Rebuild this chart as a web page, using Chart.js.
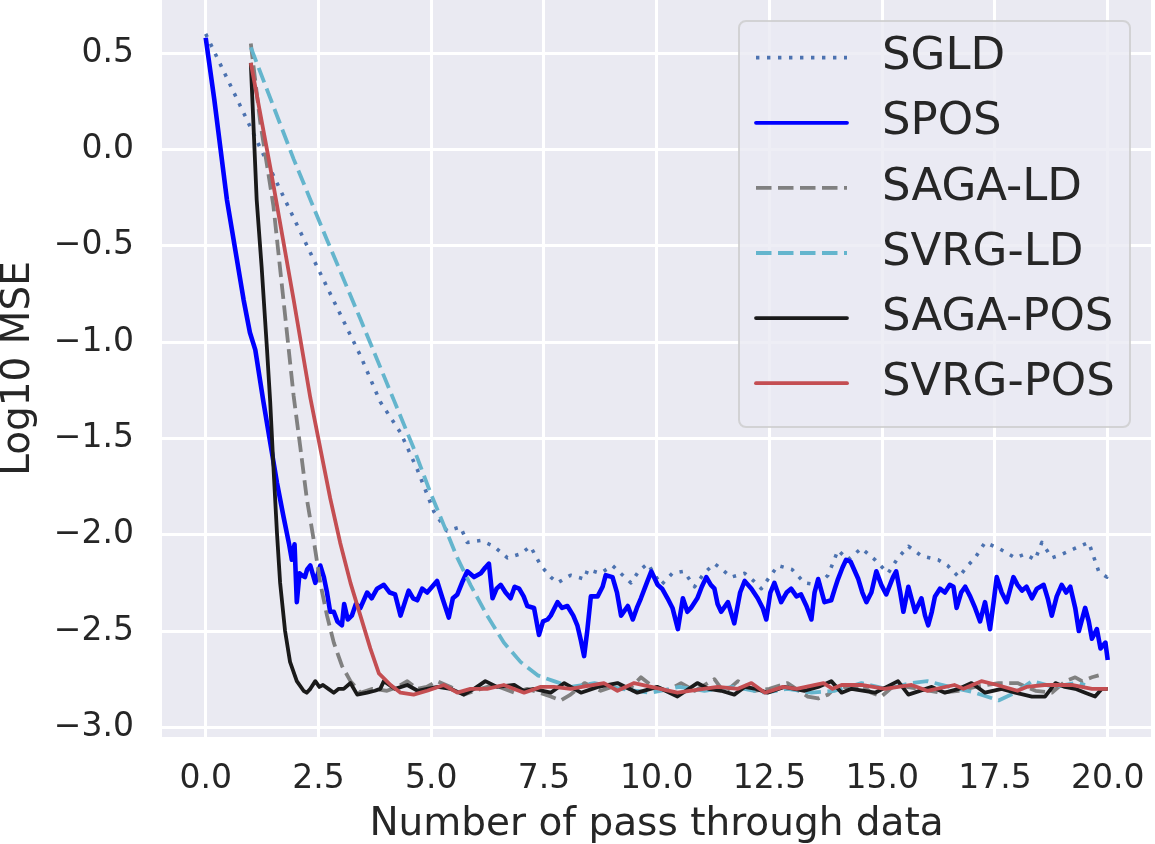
<!DOCTYPE html>
<html>
<head>
<meta charset="utf-8">
<title>Log10 MSE</title>
<script src="https://cdn.jsdelivr.net/npm/chart.js@4.4.1/dist/chart.umd.min.js"></script>
<style>
    html, body { margin: 0; padding: 0; background: #ffffff; }
    #wrap { width: 1155px; height: 844px; }
</style>
</head>
<body>
<div id="wrap"><canvas id="myChart" width="1155" height="844"></canvas></div>
<script>
// tick labels
const xTicks = [0, 2.5, 5, 7.5, 10, 12.5, 15, 17.5, 20];
const yTicks = [-3, -2.5, -2, -1.5, -1, -0.5, 0, 0.5];

const seriesNames = ["SGLD", "SPOS", "SAGA-LD", "SVRG-LD", "SAGA-POS", "SVRG-POS"];

// SGLD
const sgldX = [0, 0.76, 1.47, 2.39, 3.43, 3.87, 4.32, 4.69, 5.06, 5.35, 5.65, 5.8, 6.1, 6.39, 6.69, 6.98, 7.2, 7.43, 7.65, 7.8,
    8.09, 8.4, 8.47, 8.75, 9.02, 9.2, 9.43, 9.6, 9.8, 10.1, 10.35, 10.6, 10.84, 11.05, 11.28, 11.45, 11.65, 11.95, 12.15, 12.32,
    12.5, 12.69, 13.0, 13.28, 13.58, 13.8, 14.02, 14.24, 14.54, 14.84, 15.13, 15.35, 15.58, 15.87, 16.24, 16.45, 16.7, 16.9, 17.06, 17.28,
    17.58, 17.95, 18.17, 18.39, 18.54, 18.76, 19.0, 19.28, 19.58, 19.8, 19.98, 20];
const sgldY = [0.6, 0.23, -0.12, -0.57, -1.07, -1.31, -1.47, -1.66, -1.88, -1.98, -1.96, -2.04, -2.03, -2.06, -2.12, -2.1, -2.06, -2.16, -2.22, -2.25,
    -2.21, -2.23, -2.18, -2.2, -2.16, -2.2, -2.25, -2.19, -2.15, -2.26, -2.2, -2.19, -2.27, -2.2, -2.15, -2.18, -2.22, -2.2, -2.24, -2.28,
    -2.22, -2.16, -2.18, -2.25, -2.26, -2.21, -2.08, -2.13, -2.07, -2.13, -2.2, -2.12, -2.06, -2.11, -2.13, -2.16, -2.22, -2.16, -2.12, -2.04,
    -2.07, -2.12, -2.1, -2.13, -2.04, -2.12, -2.1, -2.07, -2.04, -2.19, -2.22, -2.18];

// SPOS
const sposX = [0, 0.19, 0.47, 0.84, 0.98, 1.1, 1.28, 1.43, 1.58, 1.72, 1.85, 1.91, 1.97, 2.02, 2.08, 2.13, 2.2, 2.25, 2.32, 2.43,
    2.54, 2.62, 2.69, 2.76, 2.84, 2.92, 3.02, 3.07, 3.15, 3.24, 3.33, 3.43, 3.58, 3.68, 3.8, 3.95, 4.08, 4.2, 4.32, 4.5,
    4.6, 4.69, 4.8, 4.91, 5.02, 5.13, 5.25, 5.39, 5.48, 5.58, 5.7, 5.8, 5.95, 6.1, 6.2, 6.28, 6.36, 6.45, 6.54, 6.65,
    6.76, 6.85, 6.95, 7.05, 7.13, 7.28, 7.39, 7.48, 7.58, 7.65, 7.8, 7.9, 8.02, 8.15, 8.24, 8.32, 8.39, 8.46, 8.54, 8.69,
    8.8, 8.87, 9.02, 9.12, 9.21, 9.36, 9.47, 9.56, 9.65, 9.78, 9.88, 10.02, 10.12, 10.24, 10.35, 10.47, 10.58, 10.68, 10.76, 10.9,
    11.0, 11.1, 11.2, 11.28, 11.35, 11.43, 11.58, 11.72, 11.85, 11.95, 12.1, 12.24, 12.35, 12.43, 12.52, 12.61, 12.76, 12.88, 12.98, 13.1,
    13.2, 13.32, 13.43, 13.5, 13.58, 13.72, 13.87, 13.95, 14.02, 14.12, 14.2, 14.3, 14.47, 14.56, 14.65, 14.76, 14.87, 14.98, 15.09, 15.24,
    15.31, 15.4, 15.47, 15.58, 15.66, 15.73, 15.87, 15.95, 16.02, 16.1, 16.17, 16.28, 16.39, 16.5, 16.58, 16.65, 16.75, 16.84, 16.95, 17.06,
    17.17, 17.28, 17.39, 17.47, 17.54, 17.65, 17.76, 17.91, 18.0, 18.1, 18.2, 18.32, 18.43, 18.58, 18.67, 18.76, 18.87, 18.98, 19.08, 19.17,
    19.28, 19.36, 19.5, 19.58, 19.65, 19.76, 19.84, 19.95, 20];
const sposY = [0.58, 0.26, -0.26, -0.78, -0.95, -1.04, -1.31, -1.52, -1.73, -1.9, -2.05, -2.13, -2.05, -2.35, -2.2, -2.21, -2.22, -2.18, -2.16, -2.25,
    -2.16, -2.22, -2.3, -2.4, -2.4, -2.45, -2.47, -2.36, -2.44, -2.42, -2.36, -2.38, -2.3, -2.33, -2.28, -2.26, -2.3, -2.31, -2.42, -2.29,
    -2.33, -2.34, -2.28, -2.3, -2.27, -2.24, -2.33, -2.43, -2.33, -2.31, -2.24, -2.19, -2.22, -2.2, -2.17, -2.15, -2.33, -2.28, -2.26, -2.3,
    -2.33, -2.27, -2.28, -2.32, -2.37, -2.38, -2.52, -2.45, -2.44, -2.42, -2.35, -2.38, -2.37, -2.42, -2.47, -2.55, -2.63, -2.5, -2.32, -2.32,
    -2.27, -2.21, -2.22, -2.3, -2.42, -2.37, -2.44, -2.38, -2.33, -2.25, -2.19, -2.26, -2.28, -2.33, -2.38, -2.49, -2.33, -2.4, -2.38, -2.33,
    -2.27, -2.22, -2.26, -2.28, -2.36, -2.4, -2.35, -2.46, -2.3, -2.24, -2.28, -2.33, -2.38, -2.44, -2.3, -2.25, -2.35, -2.3, -2.28, -2.32,
    -2.31, -2.37, -2.44, -2.3, -2.23, -2.35, -2.34, -2.28, -2.23, -2.17, -2.13, -2.14, -2.23, -2.3, -2.35, -2.3, -2.19, -2.26, -2.31, -2.22,
    -2.19, -2.3, -2.4, -2.27, -2.34, -2.4, -2.33, -2.42, -2.47, -2.4, -2.32, -2.28, -2.3, -2.26, -2.27, -2.38, -2.3, -2.27, -2.32, -2.38,
    -2.45, -2.35, -2.49, -2.35, -2.22, -2.3, -2.35, -2.22, -2.26, -2.29, -2.27, -2.33, -2.28, -2.26, -2.33, -2.42, -2.32, -2.26, -2.3, -2.27,
    -2.38, -2.5, -2.38, -2.45, -2.54, -2.49, -2.59, -2.56, -2.65];

// SAGA-LD
const sagaLdX = [1.0, 1.21, 1.5, 1.76, 1.95, 2.1, 2.24, 2.39, 2.54, 2.69, 2.84, 3.02, 3.21, 3.43, 3.7, 4.02, 4.25, 4.47, 4.69, 4.9,
    5.13, 5.43, 5.72, 6.1, 6.39, 6.84, 7.13, 7.4, 7.65, 7.87, 8.09, 8.4, 8.76, 9.13, 9.4, 9.65, 9.87, 10.24, 10.54, 10.84,
    11.28, 11.5, 11.8, 12.17, 12.5, 12.9, 13.35, 13.58, 13.8, 14.02, 14.3, 14.54, 14.76, 14.98, 15.28, 15.8, 16.3, 16.7, 17.06, 17.58,
    18.0, 18.4, 18.76, 19.06, 19.28, 19.43, 19.65, 19.8];
const sagaLdY = [0.55, 0.14, -0.29, -0.86, -1.28, -1.55, -1.81, -2.02, -2.25, -2.42, -2.56, -2.68, -2.76, -2.82, -2.8, -2.81, -2.79, -2.76, -2.8, -2.79,
    -2.76, -2.79, -2.83, -2.8, -2.78, -2.82, -2.8, -2.82, -2.84, -2.86, -2.83, -2.77, -2.81, -2.78, -2.8, -2.74, -2.78, -2.81, -2.77, -2.81,
    -2.75, -2.82, -2.76, -2.81, -2.8, -2.77, -2.84, -2.85, -2.83, -2.78, -2.8, -2.78, -2.82, -2.84, -2.78, -2.8, -2.82, -2.81, -2.79, -2.77,
    -2.77, -2.81, -2.82, -2.76, -2.74, -2.76, -2.74, -2.73];

// SVRG-LD
const svrgLdX = [1.0, 1.95, 2.69, 3.43, 4.17, 4.61, 4.98, 5.28, 5.58, 5.87, 6.24, 6.61, 6.98, 7.36, 7.72, 8.1, 8.62, 9.2, 9.87, 10.5,
    11.06, 11.7, 12.4, 12.9, 13.43, 13.95, 14.54, 15.1, 15.65, 16.0, 16.5, 17.06, 17.58, 17.95, 18.32, 18.8, 19.28, 19.5];
const svrgLdY = [0.53, -0.05, -0.47, -0.88, -1.3, -1.55, -1.78, -1.95, -2.12, -2.26, -2.42, -2.56, -2.66, -2.73, -2.76, -2.79, -2.77, -2.8, -2.82, -2.79,
    -2.81, -2.79, -2.82, -2.8, -2.82, -2.81, -2.77, -2.8, -2.77, -2.76, -2.79, -2.82, -2.86, -2.82, -2.76, -2.79, -2.77, -2.78];

// SAGA-POS
const sagaPosX = [1.0, 1.13, 1.24, 1.36, 1.43, 1.5, 1.58, 1.65, 1.76, 1.87, 2.02, 2.17, 2.24, 2.32, 2.43, 2.52, 2.6, 2.72, 2.84, 2.95,
    3.06, 3.21, 3.36, 3.58, 3.75, 3.87, 3.95, 4.2, 4.47, 4.7, 4.91, 5.15, 5.43, 5.72, 5.95, 6.2, 6.46, 6.84, 7.05, 7.28,
    7.65, 7.95, 8.32, 8.7, 9.13, 9.57, 10.02, 10.46, 10.9, 11.15, 11.43, 11.72, 11.95, 12.2, 12.46, 12.83, 13.28, 13.58, 13.87, 14.1,
    14.32, 14.84, 15.1, 15.35, 15.58, 16.1, 16.39, 16.7, 16.98, 17.28, 17.65, 17.95, 18.32, 18.61, 18.84, 19.05, 19.28, 19.5, 19.72, 19.87,
    20];
const sagaPosY = [0.45, -0.26, -0.61, -1.04, -1.31, -1.64, -1.99, -2.25, -2.5, -2.66, -2.76, -2.81, -2.82, -2.8, -2.76, -2.79, -2.78, -2.8, -2.82, -2.8,
    -2.8, -2.77, -2.83, -2.82, -2.81, -2.8, -2.76, -2.8, -2.78, -2.81, -2.8, -2.79, -2.8, -2.83, -2.8, -2.76, -2.79, -2.78, -2.81, -2.8,
    -2.82, -2.77, -2.82, -2.79, -2.77, -2.82, -2.79, -2.84, -2.77, -2.8, -2.81, -2.83, -2.79, -2.8, -2.82, -2.79, -2.81, -2.79, -2.76, -2.82,
    -2.8, -2.82, -2.79, -2.76, -2.83, -2.79, -2.82, -2.8, -2.77, -2.82, -2.8, -2.82, -2.84, -2.84, -2.77, -2.79, -2.8, -2.82, -2.84, -2.8,
    -2.8];

// SVRG-POS
const svrgPosX = [1.0, 1.43, 1.95, 2.32, 2.54, 2.76, 2.98, 3.21, 3.43, 3.65, 3.84, 4.1, 4.32, 4.61, 4.91, 5.28, 5.58, 5.87, 6.24, 6.61,
    7.06, 7.43, 7.72, 8.09, 8.83, 9.13, 9.5, 10.46, 11.35, 11.8, 12.1, 12.4, 12.8, 13.1, 13.7, 13.9, 14.1, 14.54, 15.06, 15.65,
    16.0, 16.6, 16.8, 17.2, 17.55, 18.0, 18.2, 18.6, 19.2, 19.65, 20];
const svrgPosY = [0.45, -0.09, -0.78, -1.29, -1.55, -1.81, -2.04, -2.25, -2.42, -2.59, -2.72, -2.78, -2.82, -2.83, -2.81, -2.78, -2.82, -2.8, -2.8, -2.78,
    -2.82, -2.79, -2.79, -2.8, -2.77, -2.81, -2.77, -2.82, -2.79, -2.8, -2.77, -2.82, -2.79, -2.8, -2.77, -2.8, -2.78, -2.78, -2.8, -2.78,
    -2.81, -2.78, -2.8, -2.76, -2.78, -2.81, -2.79, -2.78, -2.78, -2.8, -2.8];

const seriesX = [sgldX, sposX, sagaLdX, svrgLdX, sagaPosX, svrgPosX];
const seriesY = [sgldY, sposY, sagaLdY, svrgLdY, sagaPosY, svrgPosY];

const lineColors = ["#4C72B0", "#0000FF", "#808080", "#64B5CD", "#1A1A1A", "#C44E52"];
const lineDashes = [[3.4, 7.6], [], [15.5, 6.5], [15.5, 6.5], [], []];
const lineWidths = [3.6, 4.6, 3.8, 3.8, 3.8, 3.8];

const fontFamily = "'DejaVu Sans', 'Liberation Sans', sans-serif";
const textColor = "#262626";

Chart.defaults.font.family = fontFamily;
Chart.defaults.color = textColor;

// grey plot area like seaborn darkgrid
const plotBackground = {
    id: "plotBackground",
    beforeDraw(chart) {
        const { ctx, chartArea } = chart;
        ctx.save();
        ctx.fillStyle = "#EAEAF2";
        ctx.fillRect(chartArea.left, chartArea.top, chartArea.width, chartArea.height);
        ctx.restore();
    },
};

// legend box inside the axes, upper right
const boxLegend = {
    id: "boxLegend",
    afterDatasetsDraw(chart) {
        const ctx = chart.ctx;
        const left = 739, top = 21, right = 1130, bottom = 427, r = 7;
        ctx.save();
        ctx.beginPath();
        ctx.moveTo(left + r, top);
        ctx.lineTo(right - r, top);
        ctx.arcTo(right, top, right, top + r, r);
        ctx.lineTo(right, bottom - r);
        ctx.arcTo(right, bottom, right - r, bottom, r);
        ctx.lineTo(left + r, bottom);
        ctx.arcTo(left, bottom, left, bottom - r, r);
        ctx.lineTo(left, top + r);
        ctx.arcTo(left, top, left + r, top, r);
        ctx.closePath();
        ctx.fillStyle = "rgba(234, 234, 242, 0.8)";
        ctx.fill();
        ctx.lineWidth = 2;
        ctx.strokeStyle = "rgba(204, 204, 204, 0.8)";
        ctx.stroke();

        chart.data.datasets.forEach(function (ds, i) {
            const y = 57.7 + i * 65.1;
            ctx.beginPath();
            ctx.setLineDash(ds.borderDash);
            ctx.lineWidth = 3.8;
            ctx.strokeStyle = ds.borderColor;
            ctx.lineCap = ds.borderDash.length ? "butt" : "round";
            ctx.moveTo(756, y);
            ctx.lineTo(847, y);
            ctx.stroke();
            ctx.setLineDash([]);
            ctx.fillStyle = textColor;
            ctx.font = "45px " + fontFamily;
            ctx.textBaseline = "middle";
            ctx.textAlign = "left";
            ctx.fillText(ds.label, 882, y);
        });
        ctx.restore();
    },
};

function minusLabel(v) {
    return (v < 0 ? "\u2212" : "") + Math.abs(v).toFixed(1);
}

function noEdgePadding(scale) {
    scale.paddingLeft = 0;
    scale.paddingRight = 0;
    scale.paddingTop = 0;
    scale.paddingBottom = 0;
}

const datasets = seriesNames.map(function (name, i) {
    return {
        label: name,
        data: seriesX[i].map((x, j) => ({ x: x, y: seriesY[i][j] })),
        borderColor: lineColors[i],
        backgroundColor: lineColors[i],
        borderDash: lineDashes[i],
        borderWidth: lineWidths[i],
        borderJoinStyle: "round",
        pointRadius: 0,
        tension: 0,
        fill: false,
        order: seriesNames.length - i,
    };
});

const ctx = document.getElementById("myChart").getContext("2d");
const myChart = new Chart(ctx, {
    type: "line",
    data: { datasets: datasets },
    plugins: [plotBackground, boxLegend],
    options: {
        responsive: false,
        animation: false,
        devicePixelRatio: 1,
        layout: { padding: { left: 0, right: 4, top: 0, bottom: 0 } },
        plugins: {
            legend: { display: false },
            tooltip: { enabled: false },
        },
        scales: {
            x: {
                type: "linear",
                min: -0.969,
                max: 20.96,
                afterBuildTicks(scale) {
                    scale.ticks = xTicks.map((v) => ({ value: v }));
                },
                afterFit(scale) {
                    scale.height = 107;
                    noEdgePadding(scale);
                },
                grid: { color: "#ffffff", lineWidth: 3, drawTicks: false },
                border: { display: false },
                ticks: {
                    padding: 23,
                    maxRotation: 0,
                    autoSkip: false,
                    font: { size: 33 },
                    color: textColor,
                    callback: (v) => minusLabel(v),
                },
                title: {
                    display: true,
                    text: "Number of pass through data",
                    font: { size: 39, lineHeight: 1 },
                    color: textColor,
                    padding: 0,
                },
            },
            y: {
                type: "linear",
                min: -3.05,
                max: 0.776,
                afterBuildTicks(scale) {
                    scale.ticks = yTicks.map((v) => ({ value: v }));
                },
                afterFit(scale) {
                    scale.width = 162;
                    noEdgePadding(scale);
                },
                grid: { color: "#ffffff", lineWidth: 3, drawTicks: false },
                border: { display: false },
                ticks: {
                    padding: 28,
                    autoSkip: false,
                    font: { size: 33 },
                    color: textColor,
                    callback: (v) => minusLabel(v),
                },
                title: {
                    display: true,
                    text: "Log10 MSE",
                    font: { size: 39, lineHeight: 0.95 },
                    color: textColor,
                    padding: 0,
                },
            },
        },
    },
});
</script>
</body>
</html>
